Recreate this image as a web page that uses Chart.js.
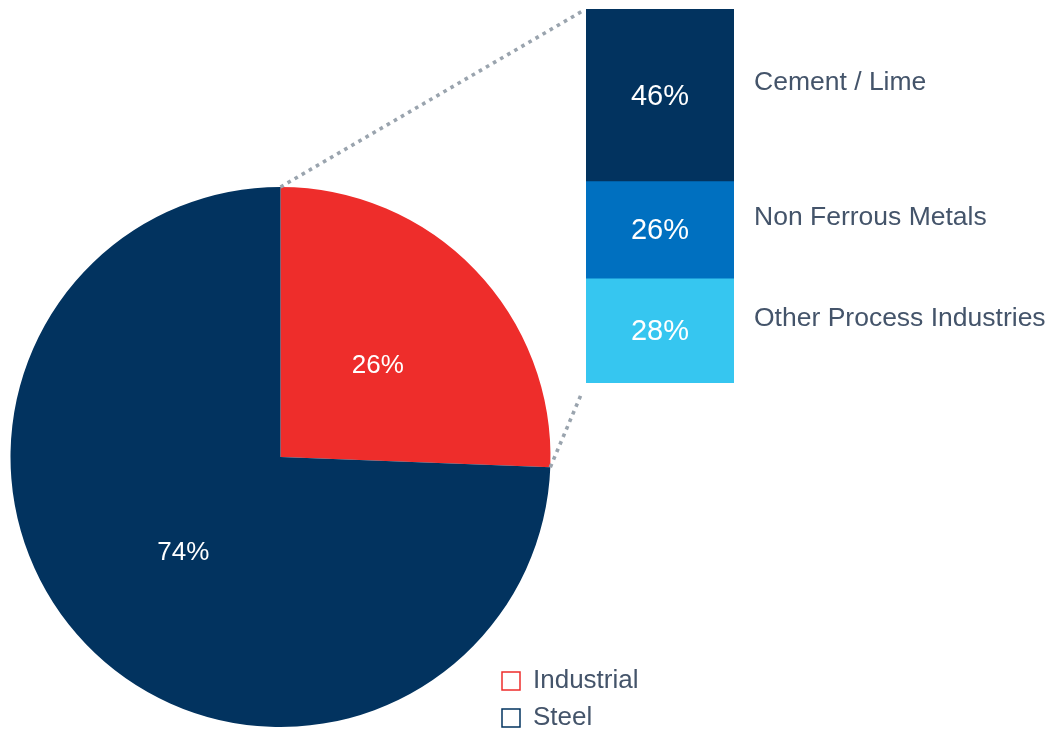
<!DOCTYPE html>
<html><head><meta charset="utf-8">
<script src="https://cdn.jsdelivr.net/npm/chart.js@4"></script>
<style>
html,body{margin:0;padding:0;background:#fff;overflow:hidden;width:1050px;height:731px}
#wrap{position:relative;width:1050px;height:731px;overflow:hidden;background:#fff}
canvas{position:absolute}
</style></head><body>
<div id="wrap">
<canvas id="pie" width="650" height="742" style="left:0;top:0"></canvas>
<canvas id="bar" width="464" height="374" style="left:586px;top:9px"></canvas>
</div>
<script>
const mainCategories = ['Industrial', 'Steel'];
const mainValues = [25.6, 74.4];
const mainColors = ['#EE2D2B', '#02335F'];

const subCategories = ['Cement / Lime', 'Non Ferrous Metals', 'Other Process Industries'];
const subValues = [46, 26, 28];
const subColors = ['#02335F', '#0070C0', '#36C6F0'];

const FONT = '"Liberation Sans", Arial, sans-serif';
const TEXT_COLOR = '#44546A';
const LINE_COLOR = '#9AA4AE';
Chart.defaults.font.family = FONT;

const pct = v => Math.round(v) + '%';

// ---------- stacked bar (breakdown of Industrial) ----------
const barLabelPlugin = {
  id: 'barLabels',
  afterDatasetsDraw(chart) {
    const ctx = chart.ctx;
    ctx.save();
    chart.data.datasets.forEach((ds, i) => {
      const el = chart.getDatasetMeta(i).data[0];
      const cy = (el.y + el.base) / 2;
      ctx.fillStyle = '#FFFFFF';
      ctx.font = '29px ' + FONT;
      ctx.textAlign = 'center';
      ctx.textBaseline = 'middle';
      ctx.fillText(pct(subValues[i]), el.x, cy + 1.5);
      ctx.fillStyle = TEXT_COLOR;
      ctx.font = '26.5px ' + FONT;
      ctx.textAlign = 'left';
      ctx.fillText(subCategories[i], chart.chartArea.right + 20, cy - 12);
    });
    ctx.restore();
  }
};

const barChart = new Chart(document.getElementById('bar'), {
  type: 'bar',
  data: {
    labels: [''],
    datasets: subCategories.map((c, i) => ({
      label: c,
      data: [subValues[i]],
      backgroundColor: subColors[i],
      borderWidth: 0,
      barPercentage: 1,
      categoryPercentage: 1
    }))
  },
  options: {
    responsive: false,
    animation: false,
    layout: { padding: { left: 0, right: 316, top: 0, bottom: 0 } },
    scales: {
      x: { display: false, stacked: true },
      y: { display: false, stacked: true, reverse: true, min: 0, max: 100 }
    },
    plugins: { legend: { display: false }, tooltip: { enabled: false } }
  },
  plugins: [barLabelPlugin]
});

// ---------- pie ----------
const pieLabelPlugin = {
  id: 'pieLabels',
  afterDatasetsDraw(chart) {
    const ctx = chart.ctx;
    ctx.save();
    ctx.fillStyle = '#FFFFFF';
    ctx.font = '26px ' + FONT;
    ctx.textAlign = 'center';
    ctx.textBaseline = 'middle';
    chart.getDatasetMeta(0).data.forEach((arc, i) => {
      const p = arc.tooltipPosition();
      ctx.fillText(pct(mainValues[i]), p.x, p.y + 2.5);
    });
    ctx.restore();
  }
};

function dotted(ctx, a, b, gap) {
  const dx = b.x - a.x, dy = b.y - a.y;
  const len = Math.hypot(dx, dy);
  const t = (len - gap) / len;
  ctx.beginPath();
  ctx.moveTo(a.x, a.y);
  ctx.lineTo(a.x + dx * t, a.y + dy * t);
  ctx.stroke();
}

const connectorPlugin = {
  id: 'connectors',
  afterDraw(chart) {
    const ctx = chart.ctx;
    const arc = chart.getDatasetMeta(0).data[0];
    const r = arc.outerRadius;
    const p1 = { x: arc.x + r * Math.cos(arc.startAngle), y: arc.y + r * Math.sin(arc.startAngle) };
    const p2 = { x: arc.x + r * Math.cos(arc.endAngle), y: arc.y + r * Math.sin(arc.endAngle) };
    const offX = barChart.canvas.offsetLeft - chart.canvas.offsetLeft;
    const offY = barChart.canvas.offsetTop - chart.canvas.offsetTop;
    const n = subValues.length;
    const top = barChart.getDatasetMeta(0).data[0];
    const bot = barChart.getDatasetMeta(n - 1).data[0];
    const q1 = { x: offX + top.x - top.width / 2, y: offY + Math.min(top.y, top.base) };
    const q2 = { x: offX + bot.x - bot.width / 2, y: offY + Math.max(bot.y, bot.base) };
    ctx.save();
    ctx.strokeStyle = LINE_COLOR;
    ctx.lineWidth = 3.6;
    ctx.lineCap = 'butt';
    ctx.setLineDash([3.6, 4.6]);
    dotted(ctx, p1, q1, 3);
    dotted(ctx, p2, q2, 10);
    ctx.restore();
  }
};

// compute legend width so the pie sits where it should
const LEG_FONT = 26, LEG_BOX = 18, LEG_PAD = 11;
const mctx = document.createElement('canvas').getContext('2d');
mctx.font = LEG_FONT + 'px ' + FONT;
const maxText = Math.max(...mainCategories.map(t => mctx.measureText(t).width));
const legendWidth = LEG_PAD + LEG_BOX + LEG_FONT / 2 + maxText + 10;
const pieCanvas = document.getElementById('pie');
const padRight = pieCanvas.width - 491 - legendWidth;

const pieChart = new Chart(pieCanvas, {
  type: 'pie',
  data: {
    labels: mainCategories,
    datasets: [{
      data: mainValues,
      backgroundColor: mainColors,
      borderWidth: 0,
      radius: 270,
      clip: false
    }]
  },
  options: {
    responsive: false,
    animation: false,
    layout: { padding: { left: 70, right: padRight, top: 172, bottom: 0 } },
    plugins: {
      tooltip: { enabled: false },
      legend: {
        position: 'right',
        align: 'end',
        labels: {
          boxWidth: LEG_BOX,
          boxHeight: LEG_BOX,
          padding: LEG_PAD,
          color: TEXT_COLOR,
          font: { size: LEG_FONT, family: FONT },
          generateLabels(chart) {
            const items = Chart.overrides.pie.plugins.legend.labels.generateLabels(chart);
            return items.map(it => Object.assign(it, {
              strokeStyle: it.fillStyle,
              fillStyle: '#FFFFFF',
              lineWidth: 1.5
            }));
          }
        }
      }
    }
  },
  plugins: [pieLabelPlugin, connectorPlugin]
});
</script>
</body></html>
